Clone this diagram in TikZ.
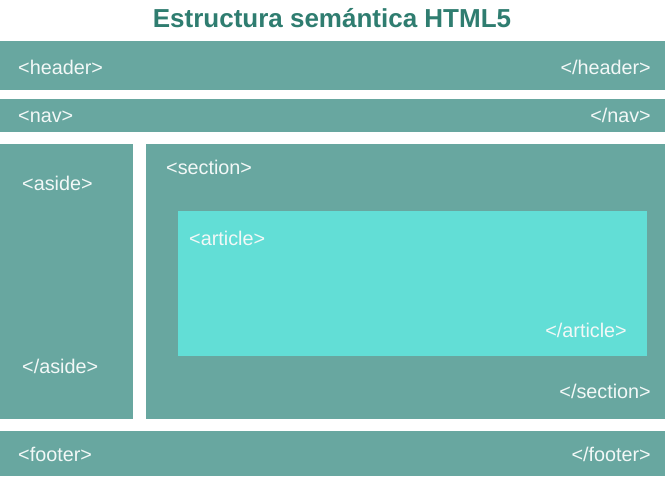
\documentclass[tikz,border=0pt]{standalone}
\usepackage{fontspec}
\setmainfont{Liberation Sans}
\definecolor{boxteal}{HTML}{68A7A0}
\definecolor{artcyan}{HTML}{62DED6}
\definecolor{titleteal}{HTML}{2F7D70}
\definecolor{tagwhite}{HTML}{F2F8F7}
\begin{document}
\begin{tikzpicture}[x=1pt,y=-1pt,
  blockbox/.style={fill=boxteal,draw=none},
  artbox/.style={fill=artcyan,draw=none},
  tagbase/.style={text=tagwhite,font=\fontsize{19.8}{22}\selectfont,inner sep=0pt,text height=18pt,text depth=4pt},
  tagl/.style={tagbase,anchor=west},
  tagr/.style={tagbase,anchor=east}]
\useasboundingbox[fill=white] (0,0) rectangle (666,477);
\node[text=titleteal,font=\bfseries\fontsize{26}{28}\selectfont,inner sep=0pt] (title) at (332,18) {Estructura semántica HTML5};
\fill[blockbox] (0,41) rectangle (665,90);
\fill[blockbox] (0,99) rectangle (665,132);
\fill[blockbox] (0,144) rectangle (133,419);
\fill[blockbox] (146,144) rectangle (665,419);
\fill[artbox] (178,211) rectangle (647,356);
\fill[blockbox] (0,431) rectangle (665,476);
\node[tagl] (h1) at (18,67) {<header>};
\node[tagr] (h2) at (651,67) {</header>};
\node[tagl] (n1) at (18,115) {<nav>};
\node[tagr] (n2) at (651,115) {</nav>};
\node[tagl] (a1) at (22,183) {<aside>};
\node[tagl] (a2) at (22,366) {</aside>};
\node[tagl] (s1) at (166,167) {<section>};
\node[tagr] (s2) at (651,391) {</section>};
\node[tagl] (r1) at (189,238) {<article>};
\node[tagr] (r2) at (627,330) {</article>};
\node[tagl] (f1) at (18,454) {<footer>};
\node[tagr] (f2) at (651,454) {</footer>};
\end{tikzpicture}
\end{document}
